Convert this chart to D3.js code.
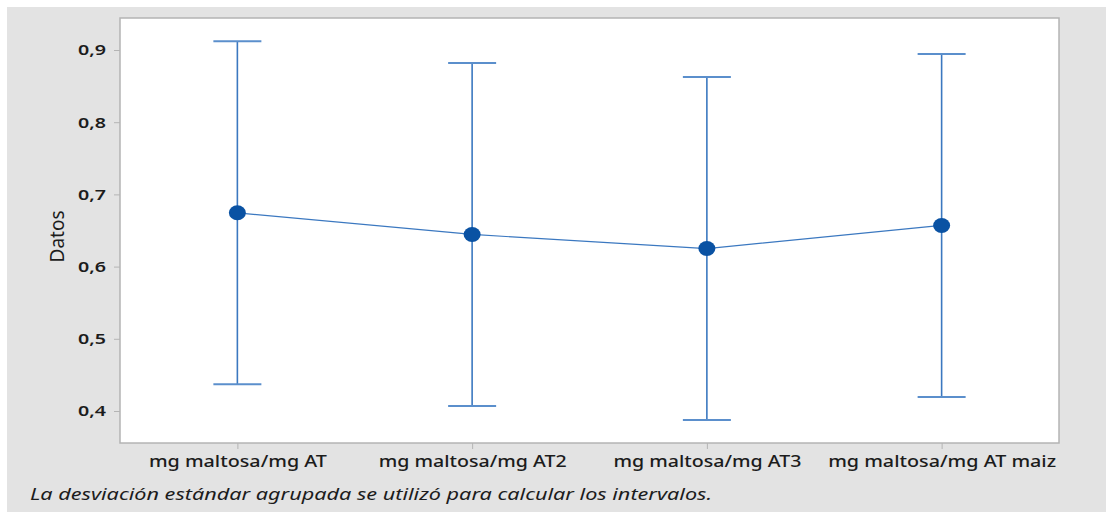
<!DOCTYPE html>
<html>
<head>
<meta charset="utf-8">
<script src="https://cdn.jsdelivr.net/npm/d3@7"></script>
<style>
  html, body { margin: 0; padding: 0; background: #ffffff; }
  svg { display: block; }
  text { font-family: "Noto Sans", "Open Sans", sans-serif; fill: #1c1c1c; }
</style>
</head>
<body>
<svg id="chart" width="1106" height="512"></svg>
<script>
// Interval plot: mean and interval per group (pooled standard deviation)
const categories = ["mg maltosa/mg AT", "mg maltosa/mg AT2", "mg maltosa/mg AT3", "mg maltosa/mg AT maiz"];
const means = [0.6745, 0.6445, 0.6250, 0.6570];
const upper = [0.9120, 0.8820, 0.8625, 0.8945];
const lower = [0.4370, 0.4070, 0.3875, 0.4195];
const yTicks = [0.4, 0.5, 0.6, 0.7, 0.8, 0.9];
const yTickLabels = ["0,4", "0,5", "0,6", "0,7", "0,8", "0,9"];
const yTitle = "Datos";
const footnote = "La desviación estándar agrupada se utilizó para calcular los intervalos.";

const svg = d3.select("#chart");
const W = 1106, H = 512;
const plot = { left: 120, right: 1059, top: 18, bottom: 443 };

// page background
svg.append("rect").attr("x", 0).attr("y", 0).attr("width", W).attr("height", H).attr("fill", "#ffffff");
svg.append("rect").attr("x", 7).attr("y", 7).attr("width", W - 7).attr("height", H - 7).attr("fill", "#e3e3e3");

const y = d3.scaleLinear()
  .domain([0.4 - 32 / 722, 0.9 + 32 / 722])
  .range([plot.bottom, plot.top]);

const x = d3.scalePoint()
  .domain(categories)
  .range([plot.left, plot.right])
  .padding(0.5);

// plot area
svg.append("rect")
  .attr("x", plot.left).attr("y", plot.top)
  .attr("width", plot.right - plot.left).attr("height", plot.bottom - plot.top)
  .attr("fill", "#ffffff")
  .attr("stroke", "#b4b4b4").attr("stroke-width", 1.5);

// y axis
const yAxis = svg.append("g")
  .attr("transform", `translate(${plot.left},0)`)
  .call(d3.axisLeft(y).tickValues(yTicks).tickSize(6).tickPadding(8)
    .tickFormat((d, i) => yTickLabels[i]));
yAxis.select(".domain").remove();
yAxis.selectAll(".tick line").attr("stroke", "#b4b4b4");
yAxis.selectAll(".tick text")
  .attr("font-size", 15).attr("font-weight", 600)
  .attr("fill", "#222")
  .attr("textLength", 28).attr("lengthAdjust", "spacingAndGlyphs");

// x axis
const xAxis = svg.append("g")
  .attr("transform", `translate(0,${plot.bottom})`)
  .call(d3.axisBottom(x).tickSize(6).tickPadding(7));
xAxis.select(".domain").remove();
xAxis.selectAll(".tick line").attr("stroke", "#b4b4b4");
const labelWidths = { "mg maltosa/mg AT": 178, "mg maltosa/mg AT2": 188, "mg maltosa/mg AT3": 188, "mg maltosa/mg AT maiz": 228 };
xAxis.selectAll(".tick text")
  .attr("font-size", 16).attr("font-weight", 500)
  .attr("fill", "#1c1c1c")
  .attr("textLength", d => labelWidths[d]).attr("lengthAdjust", "spacingAndGlyphs");

// y title
svg.append("text")
  .attr("transform", `translate(64,${(plot.top + plot.bottom) / 2 + 6}) rotate(-90)`)
  .attr("text-anchor", "middle")
  .attr("font-size", 19)
  .attr("textLength", 52).attr("lengthAdjust", "spacingAndGlyphs")
  .text(yTitle);

// footnote
svg.append("text")
  .attr("x", 30).attr("y", 500)
  .attr("font-size", 16).attr("font-style", "italic")
  .attr("fill", "#1c1c1c")
  .attr("textLength", 682).attr("lengthAdjust", "spacingAndGlyphs")
  .text(footnote);

const data = categories.map((c, i) => ({ c, m: means[i], lo: lower[i], hi: upper[i] }));
const barColor = "#3b78c0";
const capHalf = 24;

// interval bars
const bars = svg.append("g");
bars.selectAll("line.v").data(data).join("line")
  .attr("class", "v")
  .attr("x1", d => x(d.c)).attr("x2", d => x(d.c))
  .attr("y1", d => y(d.hi)).attr("y2", d => y(d.lo))
  .attr("stroke", barColor).attr("stroke-width", 1.6);
bars.selectAll("line.capHi").data(data).join("line")
  .attr("class", "capHi")
  .attr("x1", d => x(d.c) - capHalf).attr("x2", d => x(d.c) + capHalf)
  .attr("y1", d => y(d.hi)).attr("y2", d => y(d.hi))
  .attr("stroke", "#5b8fcc").attr("stroke-width", 2);
bars.selectAll("line.capLo").data(data).join("line")
  .attr("class", "capLo")
  .attr("x1", d => x(d.c) - capHalf).attr("x2", d => x(d.c) + capHalf)
  .attr("y1", d => y(d.lo)).attr("y2", d => y(d.lo))
  .attr("stroke", "#5b8fcc").attr("stroke-width", 2);

// mean connecting line
svg.append("path")
  .datum(data)
  .attr("fill", "none")
  .attr("stroke", barColor).attr("stroke-width", 1.2)
  .attr("d", d3.line().x(d => x(d.c)).y(d => y(d.m)));

// mean markers
svg.append("g").selectAll("ellipse").data(data).join("ellipse")
  .attr("cx", d => x(d.c)).attr("cy", d => y(d.m))
  .attr("rx", 8.5).attr("ry", 7.5)
  .attr("fill", "#0a52a3");
</script>
</body>
</html>
